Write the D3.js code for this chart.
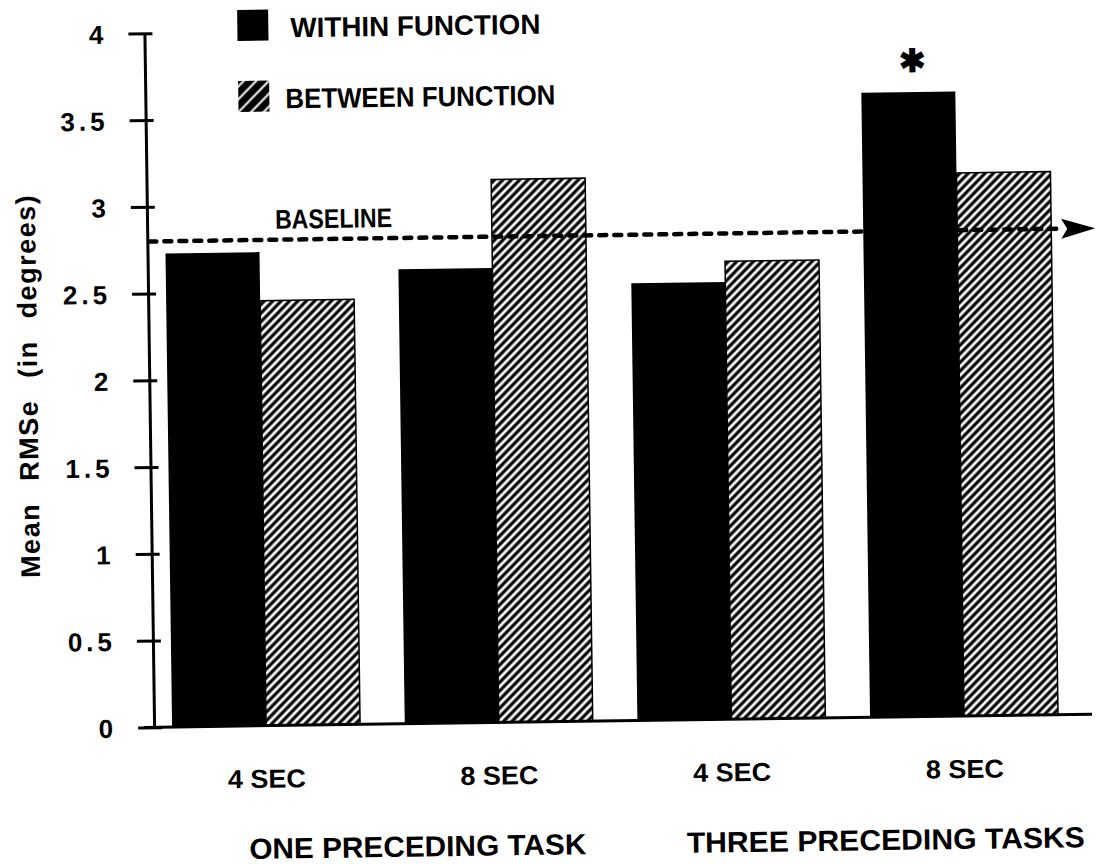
<!DOCTYPE html>
<html>
<head>
<meta charset="utf-8">
<script src="https://cdn.jsdelivr.net/npm/d3@7"></script>
<style>
  html, body { margin: 0; padding: 0; background: #fff; }
  svg { display: block; }
  text { font-family: "Liberation Sans", Arial, Helvetica, sans-serif; font-weight: bold; fill: #000; }
</style>
</head>
<body>
<svg id="chart" width="1097" height="865"></svg>
<script>
// ---- data ----
const categories = ["4 SEC", "8 SEC", "4 SEC", "8 SEC"];
const groupLabels = ["ONE PRECEDING TASK", "THREE PRECEDING TASKS"];
const seriesNames = ["WITHIN FUNCTION", "BETWEEN FUNCTION"];
const withinValues = [2.73, 2.62, 2.52, 3.6];
const betweenValues = [2.45, 3.13, 2.64, 3.13];
const baselineValue = 2.8;
const baselineLabel = "BASELINE";
const significantIndex = [3];
const yTickValues = [0, 0.5, 1, 1.5, 2, 2.5, 3, 3.5, 4];
const yTickLabels = ["0", "0.5", "1", "1.5", "2", "2.5", "3", "3.5", "4"];
const yAxisTitle = "Mean RMSe (in degrees)";

// ---- layout ----
const svg = d3.select("#chart");
const defs = svg.append("defs");

const hatch = defs.append("pattern").attr("id", "hatch")
  .attr("patternUnits", "userSpaceOnUse").attr("width", 6).attr("height", 6)
  .attr("patternTransform", "rotate(45)");
hatch.append("rect").attr("width", 6).attr("height", 6).attr("fill", "#fff");
hatch.append("line").attr("x1", 3).attr("x2", 3).attr("y1", 0).attr("y2", 6)
  .attr("stroke", "#000").attr("stroke-width", 3.2);

const lhatch = defs.append("pattern").attr("id", "lhatch")
  .attr("patternUnits", "userSpaceOnUse").attr("width", 9).attr("height", 9)
  .attr("patternTransform", "rotate(45)");
lhatch.append("rect").attr("width", 9).attr("height", 9).attr("fill", "#000");
lhatch.append("line").attr("x1", 4.5).attr("x2", 4.5).attr("y1", 0).attr("y2", 9)
  .attr("stroke", "#fff").attr("stroke-width", 2);

const g = svg.append("g").attr("transform", "rotate(-0.8, 600, 430)");

const axisX = 150;
const x = d3.scaleBand().domain(d3.range(categories.length)).range([168, 1054]).paddingInner(0.192).paddingOuter(0);
const xs = d3.scaleBand().domain(d3.range(seriesNames.length)).range([0, x.bandwidth()]).padding(0);
const y = d3.scaleLinear().domain([0, 4]).range([721, 27]);

const fills = ["#000", "url(#hatch)"];
const data = categories.map((c, i) => ({ i, vals: [withinValues[i], betweenValues[i]] }));

// bars
const groups = g.selectAll("g.grp").data(data).join("g").attr("class", "grp")
  .attr("transform", d => `translate(${x(d.i)},0)`);
groups.selectAll("rect").data(d => d.vals.map((v, s) => ({ v, s }))).join("rect")
  .attr("x", d => xs(d.s))
  .attr("width", xs.bandwidth())
  .attr("y", d => y(d.v))
  .attr("height", d => y(0) - y(d.v))
  .attr("fill", d => fills[d.s])
  .attr("stroke", d => d.s === 1 ? "#000" : "none")
  .attr("stroke-width", 1.5);

// y axis
const yAxis = g.append("g").attr("transform", `translate(${axisX},0)`)
  .call(d3.axisLeft(y).tickValues(yTickValues)
    .tickFormat((d, i) => yTickLabels[i]).tickSize(16).tickSizeOuter(0).tickPadding(21));
yAxis.select(".domain").attr("stroke", "#000").attr("stroke-width", 3);
yAxis.selectAll(".tick line").attr("x1", 8).attr("x2", -16).attr("stroke", "#000").attr("stroke-width", 3);
yAxis.selectAll(".tick text").attr("font-size", 26).attr("font-weight", "bold")
  .attr("letter-spacing", 4).attr("dy", "0.36em").attr("fill", "#000");

// x axis line
g.append("line").attr("x1", axisX - 10).attr("x2", 1088).attr("y1", y(0)).attr("y2", y(0))
  .attr("stroke", "#000").attr("stroke-width", 3);

// category labels
g.selectAll("text.cat").data(categories).join("text").attr("class", "cat")
  .attr("x", (d, i) => x(i) + x.bandwidth() / 2)
  .attr("y", y(0) + 62)
  .attr("text-anchor", "middle").attr("font-size", 26)
  .attr("textLength", 78).attr("lengthAdjust", "spacingAndGlyphs")
  .text(d => d);

// group labels
const groupPos = [[412, 337], [880, 398]];
g.selectAll("text.grpl").data(groupLabels).join("text").attr("class", "grpl")
  .attr("x", (d, i) => groupPos[i][0])
  .attr("y", 854)
  .attr("text-anchor", "middle").attr("font-size", 29)
  .attr("textLength", (d, i) => groupPos[i][1]).attr("lengthAdjust", "spacingAndGlyphs")
  .text(d => d);

// baseline
const yb = y(baselineValue);
g.append("line").attr("x1", axisX + 2).attr("x2", 1060).attr("y1", yb).attr("y2", yb)
  .attr("stroke", "#000").attr("stroke-width", 4.5)
  .attr("stroke-dasharray", "7 8").attr("stroke-linecap", "round");
g.append("path")
  .attr("d", `M1098,${yb} L1064,${yb - 10} L1070,${yb} L1064,${yb + 10} Z`)
  .attr("fill", "#000");
g.append("text").attr("x", 278).attr("y", yb - 11).attr("font-size", 27)
  .attr("textLength", 117).attr("lengthAdjust", "spacingAndGlyphs")
  .text(baselineLabel);

// significance marker
g.selectAll("text.sig").data(significantIndex).join("text").attr("class", "sig")
  .attr("x", i => x(i) + xs(0) + xs.bandwidth() / 2 + 4)
  .attr("y", i => y(withinValues[i]) - 31)
  .attr("text-anchor", "middle").attr("dominant-baseline", "central")
  .attr("font-family", "DejaVu Sans").attr("font-size", 32)
  .text("\u2731");

// legend
const legendY = [5, 76];
const legend = g.selectAll("g.leg").data(seriesNames).join("g").attr("class", "leg");
legend.append("rect").attr("x", 243).attr("y", (d, i) => legendY[i]).attr("width", 31).attr("height", 31)
  .attr("fill", (d, i) => i === 0 ? "#000" : "url(#lhatch)");
legend.append("text").attr("x", (d, i) => i === 0 ? 296 : 290)
  .attr("y", (d, i) => legendY[i] + 28)
  .attr("font-size", 28)
  .attr("textLength", (d, i) => i === 0 ? 250 : 270).attr("lengthAdjust", "spacingAndGlyphs")
  .text(d => d);

// y axis title
g.append("text").attr("transform", "translate(38,378) rotate(-90)")
  .attr("text-anchor", "middle").attr("font-size", 27)
  .attr("letter-spacing", 1.5).attr("word-spacing", 13)
  .text(yAxisTitle);
</script>
</body>
</html>
